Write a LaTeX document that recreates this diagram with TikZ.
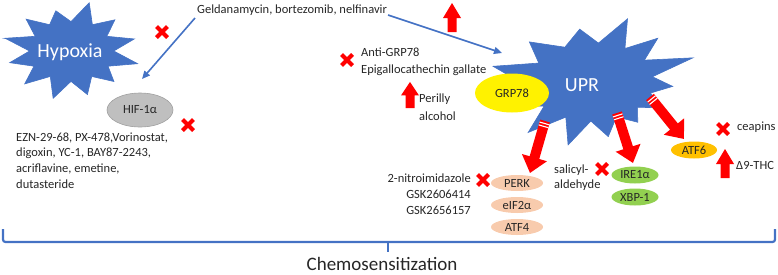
\documentclass[tikz,border=0pt]{standalone}
\usepackage{fontspec}
\setmainfont{Carlito}
\usetikzlibrary{arrows.meta,calc,shapes.geometric}
\definecolor{pptblue}{HTML}{4472C4}
\definecolor{pptred}{HTML}{FF0000}
\definecolor{hifgray}{HTML}{BFBFBF}
\definecolor{hifedge}{HTML}{A0A0A0}
\definecolor{salmon}{HTML}{F8CBAD}
\definecolor{lgreen}{HTML}{92D050}
\definecolor{gold}{HTML}{FFC000}
\definecolor{textgray}{HTML}{262626}
\newcommand\stripearrow[2]{%
  \draw[pptred, line width=10pt, -{Triangle[length=16pt,width=25pt]}] (#1) -- (#2);
  \coordinate (sA) at ($(#1)!2.5pt!(#2)$);
  \coordinate (sB) at ($(#1)!5.5pt!(#2)$);
  \draw[white, line width=1.1pt] ($(sA)!5pt!90:(#2)$) -- ($(sA)!5pt!-90:(#2)$);
  \draw[white, line width=1.1pt] ($(sB)!5pt!90:(#2)$) -- ($(sB)!5pt!-90:(#2)$);
}
\tikzset{
  lbl/.style={font=\fontsize{12.5}{16}\selectfont, text=textgray, inner sep=0pt},
  ell/.style={ellipse, inner sep=0pt, minimum width=52pt, minimum height=16pt, font=\fontsize{12.5}{15}\selectfont, text=textgray},
  bluearrow/.style={pptblue, line width=1.6pt, -{Triangle[length=8pt,width=7pt]}},
  redx/.pic={\draw[pptred, line width=4.2pt] (-5.5,-5.5) -- (5.5,5.5) (-5.5,5.5) -- (5.5,-5.5);},
  uparr/.pic={\fill[pptred] (-4.5,0) -- (-4.5,-14) -- (-9,-14) -- (0,-29) -- (9,-14) -- (4.5,-14) -- (4.5,0) -- cycle;},
  starfill/.style={fill=pptblue, draw=pptblue, line width=0.6pt, line join=miter}
}
\begin{document}
\begin{tikzpicture}[x=1pt,y=-1pt]
\useasboundingbox (0,0) rectangle (778,274);

% Hypoxia star
\fill[starfill] ({71+69*1.0*cos(-165)},{51+49*1.0*sin(-165)})
  \foreach \a/\r in {-150/0.6,-135/0.92,-120/0.62,-105/0.85,-90/0.6,-75/1.02,-60/0.62,-45/0.9,-30/0.6,-15/0.95,0/0.62,15/1.0,30/0.62,45/0.88,60/0.6,75/0.92,90/0.62,105/1.0,120/0.6,135/0.95,150/0.62,165/0.92,180/0.6,195/0.98}
  { -- ({71+69*\r*cos(\a)},{51+49*\r*sin(\a)}) } -- cycle;
\node[font=\fontsize{20}{24}\selectfont, text=white, inner sep=0pt] (hyp) at (70,52) {Hypoxia};

% UPR star
\fill[starfill] ({593+100*1.03*cos(-166)},{82+63*1.03*sin(-166)})
  \foreach \a/\r in {-151/0.62,-135/0.9,-117/0.62,-99/0.85,-85/0.62,-71/1.06,-59/0.62,-47/0.95,-34/0.62,-21/1.07,-8/0.6,5/0.8,17/0.6,30/0.82,42/0.6,55/0.78,67/0.6,80/0.88,92/0.62,104/1.03,116/0.62,129/1.03,142/0.62,155/0.92,170/0.62}
  { -- ({593+100*\r*cos(\a)},{82+63*\r*sin(\a)}) } -- cycle;
\node[font=\fontsize{20}{24}\selectfont, text=white, inner sep=0pt] (upr) at (582,85) {UPR};

% top texts and blue arrows
\node[lbl, anchor=west] (gelda) at (197,10) {Geldanamycin, bortezomib, nelfinavir};
\coordinate (g1s) at (195,18);
\coordinate (g1e) at (142,79);
\coordinate (g2s) at (388,15);
\coordinate (g2e) at (502,53);
\draw[bluearrow] (g1s) -- (g1e);
\draw[bluearrow] (g2s) -- (g2e);

% HIF
\node[ellipse, fill=hifgray, draw=hifedge, line width=0.6pt, minimum width=66pt, minimum height=34pt, inner sep=0pt, font=\fontsize{12.5}{15}\selectfont, text=textgray] (hif) at (140,110) {HIF-1α};
\node[lbl, anchor=west, align=left, font=\fontsize{12.5}{15.7}\selectfont] (ezn) at (16,160.5) {EZN-29-68, PX-478,Vorinostat,\\digoxin, YC-1, BAY87-2243,\\acriflavine, emetine,\\dutasteride};

% GRP78 area
\node[ellipse, fill=yellow, minimum width=74pt, minimum height=39pt, inner sep=0pt, font=\fontsize{12.5}{15}\selectfont, text=textgray] (grp) at (512,93) {GRP78};
\node[lbl, anchor=west, align=left, font=\fontsize{12.5}{17}\selectfont] (anti) at (361,61.5) {Anti-GRP78\\Epigallocathechin gallate};
\node[lbl, anchor=west, align=left, font=\fontsize{12.5}{18}\selectfont] (peril) at (419,107) {Perilly\\alcohol};

% UPR branches
\node[ell, fill=salmon] (perk) at (517,183) {PERK};
\node[ell, fill=salmon] (eif) at (517,205) {eIF2α};
\node[ell, fill=salmon] (atf4) at (517,227) {ATF4};
\node[ell, fill=lgreen, minimum width=47pt, minimum height=17pt] (ire) at (635,175) {IRE1α};
\node[ell, fill=lgreen, minimum width=47pt, minimum height=17pt] (xbp) at (635,197) {XBP-1};
\node[ell, fill=gold, minimum width=46pt, minimum height=17pt] (atf6) at (694,150) {ATF6};

\coordinate (t1) at (545,121);
\coordinate (h1) at (530,173);
\coordinate (t2) at (617,113);
\coordinate (h2) at (633,163);
\coordinate (t3) at (650,97);
\coordinate (h3) at (684,139);
\stripearrow{t1}{h1}
\stripearrow{t2}{h2}
\stripearrow{t3}{h3}

\node[lbl, anchor=east, align=right] (nitro) at (471,194) {2-nitroimidazole\\GSK2606414\\GSK2656157};
\node[lbl, anchor=west, align=left, font=\fontsize{12.5}{15}\selectfont] (sal) at (554,177.5) {salicyl-\\aldehyde};
\node[lbl, anchor=west] (cea) at (737,127) {ceapins};
\node[lbl, anchor=west] (thc) at (736,165) {Δ9-THC};

% red marks
\pic at (162,32) {redx};
\pic at (188,125) {redx};
\pic at (347,60) {redx};
\pic at (483,180) {redx};
\pic at (602,169) {redx};
\pic at (723,129) {redx};
\pic at (452,32) {uparr};
\pic[yscale=0.9] at (410,108) {uparr};
\pic at (725,178) {uparr};

% brace
\draw[pptblue, line width=2.2pt, rounded corners=2.5pt] (3,229) -- (3,242) -- (775,242) -- (775,229);
\coordinate (bm) at (388,242);
\coordinate (bt) at (388,252);
\draw[pptblue, line width=2.2pt] (bm) -- (bt);
\node[font=\fontsize{19}{22}\selectfont, text=textgray, inner sep=0pt] (chemo) at (382,264) {Chemosensitization};
\end{tikzpicture}
\end{document}
